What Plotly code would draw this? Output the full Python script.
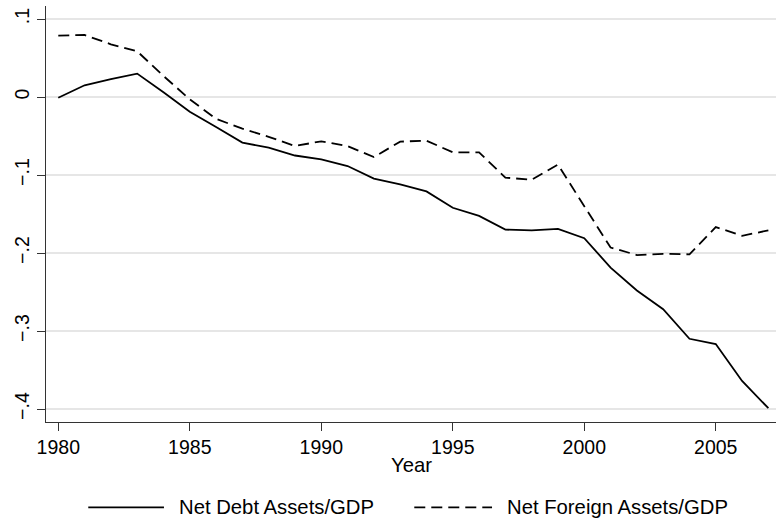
import plotly.graph_objects as go

years = list(range(1980, 2008))
net_debt = [-0.001, 0.015, 0.023, 0.030, 0.006, -0.019, -0.0385, -0.0585, -0.065, -0.075,
            -0.080, -0.0885, -0.1046, -0.112, -0.121, -0.142, -0.1525, -0.170, -0.171, -0.169,
            -0.181, -0.2187, -0.248, -0.272, -0.310, -0.3167, -0.364, -0.399]
net_foreign = [0.0787, 0.0795, 0.0676, 0.0586, 0.0270, -0.003, -0.028, -0.0406, -0.051, -0.0628,
               -0.0568, -0.063, -0.077, -0.0572, -0.056, -0.0709, -0.0709, -0.1034, -0.106, -0.0867,
               -0.140, -0.193, -0.2026, -0.201, -0.2017, -0.1667, -0.178, -0.171]
series_names = ["Net Debt Assets/GDP", "Net Foreign Assets/GDP"]
x_title = "Year"
x_ticks = [1980, 1985, 1990, 1995, 2000, 2005]
y_ticks = [0.1, 0, -0.1, -0.2, -0.3, -0.4]
y_ticklabels = [".1", "0", "\u2212.1", "\u2212.2", "\u2212.3", "\u2212.4"]

FONT = "Liberation Sans, Arial, sans-serif"
FS = 19.5
FS_LEG = 20.3

fig = go.Figure()
fig.add_trace(go.Scatter(x=years, y=net_debt, mode="lines", name=series_names[0],
                         line=dict(color="black", width=1.8)))
fig.add_trace(go.Scatter(x=years, y=net_foreign, mode="lines", name=series_names[1],
                         line=dict(color="black", width=1.8, dash="11px,6px")))

# custom legend (Stata-like long samples)
leg_y = -0.205
fig.add_shape(type="line", xref="paper", yref="paper", x0=0.0579, x1=0.1616, y0=leg_y, y1=leg_y,
              line=dict(color="black", width=1.8))
fig.add_shape(type="line", xref="paper", yref="paper", x0=0.5045, x1=0.611, y0=leg_y, y1=leg_y,
              line=dict(color="black", width=1.8, dash="11px,6px"))
fig.add_annotation(text=series_names[0], xref="paper", yref="paper", x=0.1799, y=leg_y,
                   xanchor="left", yanchor="middle", showarrow=False,
                   font=dict(family=FONT, size=FS_LEG, color="black"))
fig.add_annotation(text=series_names[1], xref="paper", yref="paper", x=0.6288, y=leg_y,
                   xanchor="left", yanchor="middle", showarrow=False,
                   font=dict(family=FONT, size=FS_LEG, color="black"))
# x-axis title
fig.add_annotation(text=x_title, xref="paper", yref="paper", x=0.5, y=-0.1034,
                   xanchor="center", yanchor="middle", showarrow=False,
                   font=dict(family=FONT, size=FS_LEG, color="black"))

fig.update_layout(
    width=776, height=524,
    margin=dict(l=46, r=0, t=6, b=102),
    paper_bgcolor="white", plot_bgcolor="white",
    showlegend=False,
    font=dict(family=FONT, size=FS, color="black"),
    xaxis=dict(
        range=[1979.533, 2007.29], tickvals=x_ticks, ticks="outside", ticklen=8,
        tickcolor="#333333", tickwidth=1, showline=True, linecolor="#333333", linewidth=1,
        showgrid=False, zeroline=False,
    ),
    yaxis=dict(
        range=[-0.41667, 0.11667], tickvals=y_ticks, ticktext=y_ticklabels, tickangle=-90,
        ticks="outside", ticklen=8, tickcolor="#333333", tickwidth=1,
        showline=True, linecolor="#333333", linewidth=1,
        showgrid=True, gridcolor="#e6e6e6", gridwidth=1.5, zeroline=False,
    ),
)

fig.write_html("out.html", config={"displayModeBar": False},
               post_script="document.body.style.margin='0';document.body.style.overflow='hidden';")
